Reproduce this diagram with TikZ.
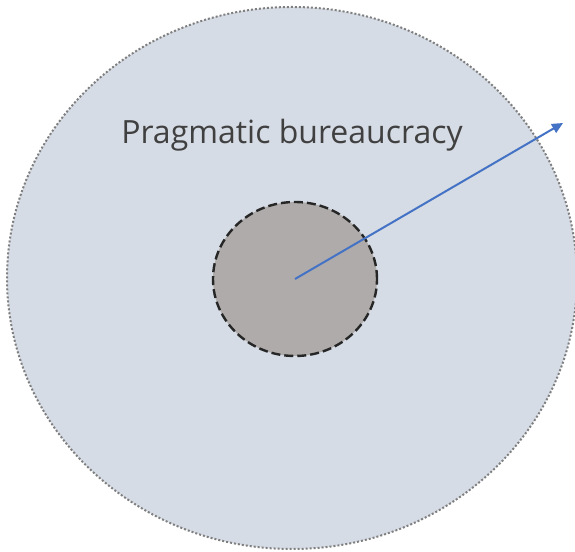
\documentclass[tikz,border=0pt]{standalone}
\usepackage{fontspec}
\setmainfont{Open Sans}
\usetikzlibrary{shapes.geometric, arrows.meta, positioning}
\usepackage{xcolor}
\definecolor{OuterBg}{HTML}{D6DCE5}
\definecolor{OuterLine}{HTML}{7F7F7F}
\definecolor{CoreBg}{HTML}{AFABAB}
\definecolor{ArrowBlue}{HTML}{4472C4}
\definecolor{LabelGray}{HTML}{404040}

\begin{document}
\begin{tikzpicture}[x=1pt, y=1pt,
            outer/.style={ellipse, draw=OuterLine, fill=OuterBg, line width=2pt, dash pattern=on 2pt off 2pt, minimum width=570pt, minimum height=542pt, inner sep=0pt},
            core/.style={ellipse, draw=black!85, fill=CoreBg, line width=2.4pt, dash pattern=on 9pt off 4pt, minimum width=164pt, minimum height=154pt, inner sep=0pt},
            arrow/.style={-{Triangle[length=11pt, width=10pt]}, line width=2pt, color=ArrowBlue},
            lbl/.style={font=\fontsize{32}{38}\selectfont, color=LabelGray}
        ]
            \useasboundingbox (0,0) rectangle (575,551);

            % Outer layer
            \node[outer] (bureau) at (292,273) {};
            \node[lbl] (title) at (292,416) {Pragmatic bureaucracy};

            % Inner core
            \node[core] (kernel) at (295,272) {};

            % Arrow pointing outward
            \coordinate (tip) at (563,428);
            \draw[arrow] (kernel.center) -- (tip);
        \end{tikzpicture}
\end{document}
